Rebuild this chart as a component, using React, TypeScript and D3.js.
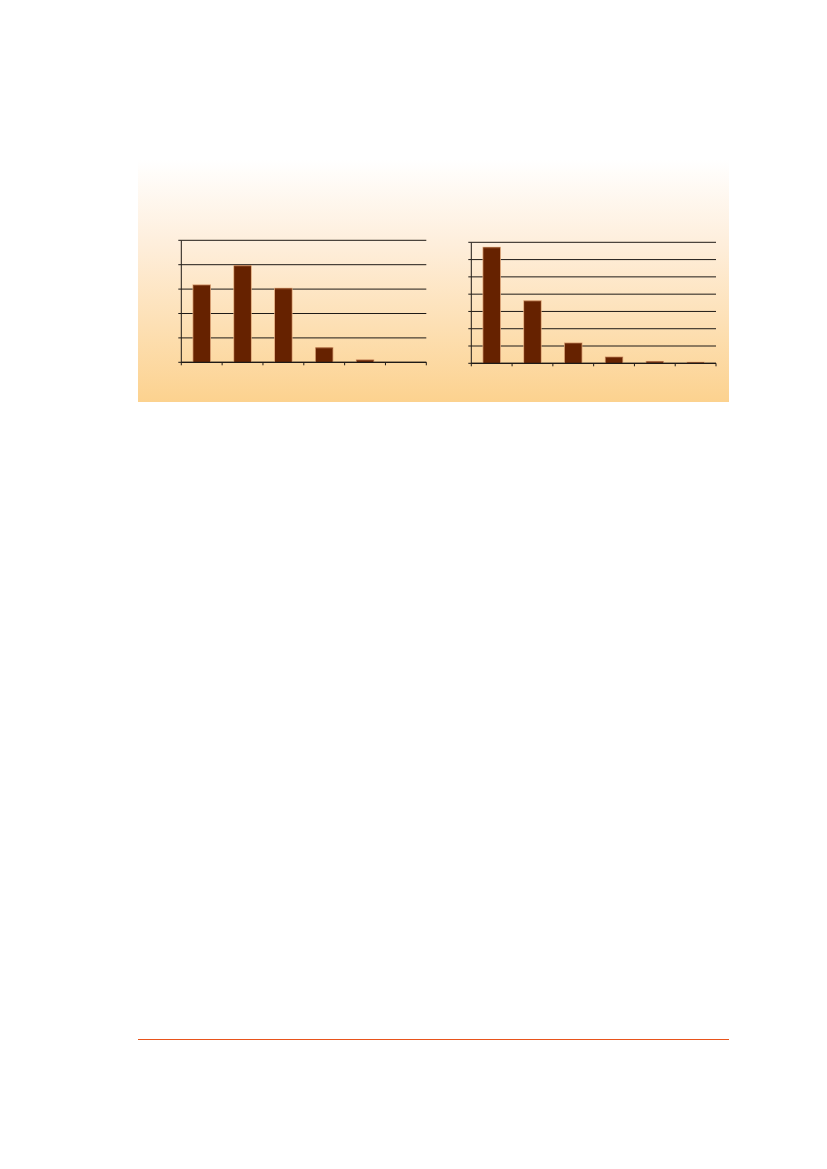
import React from "react";
import * as d3 from "d3";

const categoriesA = ["1", "2", "3", "4", "5", "6"];
const valuesA = [31.6, 39.5, 30.2, 5.9, 0.9, 0];
const ticksA = [0, 10, 20, 30, 40, 50];

const categoriesB = ["1", "2", "3", "4", "5", "6"];
const valuesB = [66.9, 36.0, 11.6, 3.5, 0.9, 0.4];
const ticksB = [0, 10, 20, 30, 40, 50, 60, 70];

const W = 827;
const H = 1169;

type ChartProps = {
  cats: string[];
  vals: number[];
  ticks: number[];
  x0: number;
  x1: number;
  yTop: number;
  yBot: number;
};

function BarChart({ cats, vals, ticks, x0, x1, yTop, yBot }: ChartProps) {
  const x = d3.scaleBand<string>().domain(cats).range([x0, x1]).padding(0);
  const y = d3
    .scaleLinear()
    .domain([0, ticks[ticks.length - 1]])
    .range([yBot, yTop]);
  const bw = x.bandwidth() * 0.41;
  const boundaries = cats.map((c) => x(c) as number).concat([x1]);
  return (
    <g>
      {ticks.map((t) => (
        <g key={"g" + t}>
          <line x1={x0} x2={x1} y1={y(t)} y2={y(t)} stroke="#1e1a16" strokeWidth={1} />
          <line x1={x0 - 3} x2={x0} y1={y(t)} y2={y(t)} stroke="#1e1a16" strokeWidth={1} />
        </g>
      ))}
      {boundaries.map((b, i) => (
        <line key={"t" + i} x1={b} x2={b} y1={yBot} y2={yBot + 3} stroke="#1e1a16" strokeWidth={1} />
      ))}
      {cats.map((c, i) => {
        const cx = (x(c) as number) + x.bandwidth() / 2;
        const top = y(vals[i]);
        const h = yBot - top;
        if (vals[i] <= 0) return null;
        return (
          <g key={"b" + c}>
            <rect x={cx - bw / 2 - 0.8} y={top - 0.8} width={bw + 1.6} height={h + 0.8} fill="#d9a073" />
            <rect x={cx - bw / 2} y={top} width={bw} height={h} fill="#662200" />
            <line x1={cx - bw / 2} x2={cx + bw / 2} y1={top + 0.3} y2={top + 0.3} stroke="#8c4a26" strokeWidth={0.8} />
          </g>
        );
      })}
      <line x1={x0} x2={x0} y1={yTop} y2={yBot} stroke="#1e1a16" strokeWidth={1} />
      <line x1={x0} x2={x1} y1={yBot} y2={yBot} stroke="#1e1a16" strokeWidth={1.2} />
    </g>
  );
}

export default function App() {
  return (
    <svg
      width={W}
      height={H}
      style={{ position: "absolute", left: 0, top: 0, background: "#ffffff" }}
    >
      <defs>
        <linearGradient id="bg" x1="0" y1="0" x2="0" y2="1">
          <stop offset="0" stopColor="#ffffff" />
          <stop offset="0.35" stopColor="#feeedb" />
          <stop offset="1" stopColor="#fcd28f" />
        </linearGradient>
      </defs>
      <rect x={138} y={160} width={591} height={242} fill="url(#bg)" />
      <BarChart cats={categoriesA} vals={valuesA} ticks={ticksA} x0={181.3} x1={426.3} yTop={240.3} yBot={362.3} />
      <BarChart cats={categoriesB} vals={valuesB} ticks={ticksB} x0={471.3} x1={716} yTop={242.3} yBot={363.3} />
      <line x1={138} x2={729} y1={1039.5} y2={1039.5} stroke="#e8541c" strokeWidth={1} />
    </svg>
  );
}
